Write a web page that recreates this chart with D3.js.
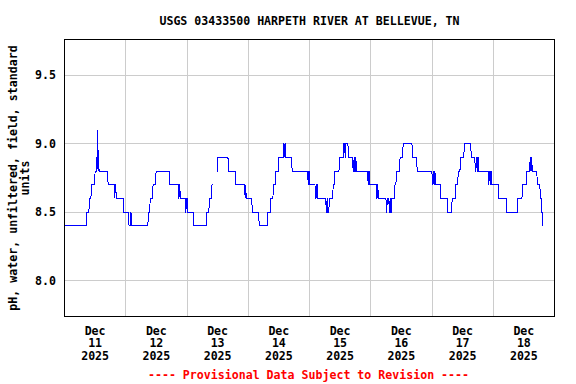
<!DOCTYPE html>
<html>
<head>
<meta charset="utf-8">
<script src="https://cdn.jsdelivr.net/npm/d3@7"></script>
<style>
  html, body { margin: 0; padding: 0; background: #fff; }
  svg { display: block; }
  text { font-family: "DejaVu Sans Mono", monospace; font-weight: bold; font-size: 11.6px; fill: #000; }
</style>
</head>
<body>
<script>
// ---- data ----
const title = "USGS 03433500 HARPETH RIVER AT BELLEVUE, TN";
const yAxisTitle = ["pH, water, unfiltered, field, standard", "units"];
const footnote = "---- Provisional Data Subject to Revision ----";
const dayLabels = [["Dec","11","2025"],["Dec","12","2025"],["Dec","13","2025"],["Dec","14","2025"],
                   ["Dec","15","2025"],["Dec","16","2025"],["Dec","17","2025"],["Dec","18","2025"]];
const yTicks = [8.0, 8.5, 9.0, 9.5];
// hours since Dec 11 00:00 at which each value begins (15-minute record, run-length form)
const stepHours = [
  0, 8.8, 9.8, 10.6, 12.0, 12.9, 13.15, 13.3, 13.55, 17.1, 19.7, 19.95, 20.3, 23.2, 25.3, 26.0, 26.3,
  32.9, 33.6, 34.7, 35.9, 41.2, 44.8, 45.1, 45.4, 47.5, 47.8, 48.3, 50.6,
  55.8, 56.8, 57.8, 58.4, 59.6, 60.1, 64.3, 67.2, 70.8, 71.0, 71.2, 73.6, 76.3,
  79.7, 80.9, 81.9, 82.8, 84.0, 85.9, 86.2, 86.4, 86.7, 89.2, 95.5, 95.8, 96.1, 98.4, 98.8, 99.2,
  102.6, 102.9, 103.2, 103.8, 105.3, 105.9, 107.8, 109.5, 110.0, 110.3, 111.3, 113.1, 113.5, 113.8, 114.1, 114.4,
  119.0, 119.3, 119.6, 122.4, 122.7, 123.0, 126.2, 126.5, 127.3, 127.6, 127.9, 128.2,
  129.5, 130.1, 131.5, 132.7, 136.4, 138.2, 144.2, 144.5, 144.8, 145.1, 145.4,
  147.5, 150.2, 151.9, 153.4, 154.3, 155.2, 156.7, 159.4, 161.0, 161.4, 161.7, 162.0, 162.3,
  166.2, 166.5, 166.8, 167.1, 167.4, 170.2, 173.3, 177.7, 179.5, 181.2,
  182.5, 182.8, 183.0, 183.3, 185.3, 186.5, 187.0, 187.5
];
const stepValues = [
  8.4, 8.5, 8.6, 8.7, 8.8, 9.1, 8.8, 8.95, 8.8, 8.7, 8.6, 8.7, 8.6, 8.5, 8.4, 8.5, 8.4,
  8.5, 8.6, 8.7, 8.8, 8.7, 8.6, 8.7, 8.6, 8.5, 8.6, 8.5, 8.4,
  8.5, 8.6, 8.7, null, 8.8, 8.9, 8.8, 8.7, 8.6, 8.7, 8.6, 8.5, 8.4,
  8.5, 8.6, 8.7, 8.8, 8.9, 9.0, 8.9, 9.0, 8.9, 8.8, 8.7, 8.8, 8.7, 8.6, 8.7, 8.6,
  8.5, 8.6, 8.5, 8.6, 8.7, 8.8, 8.9, 9.0, 8.9, 9.0, 8.9, 8.8, 8.9, 8.8, 8.9, 8.8,
  8.7, 8.8, 8.7, 8.6, 8.7, 8.6, 8.5, 8.6, 8.5, 8.6, 8.5, 8.6,
  8.7, 8.8, 8.9, 9.0, 8.9, 8.8, 8.7, 8.8, 8.7, 8.8, 8.7,
  8.6, 8.5, 8.6, 8.7, 8.8, 8.9, 9.0, 8.9, 8.8, 8.9, 8.8, 8.9, 8.8,
  8.7, 8.8, 8.7, 8.8, 8.7, 8.6, 8.5, 8.6, 8.7, 8.8,
  8.9, 8.8, 8.9, 8.8, 8.7, 8.6, 8.5, 8.4
];
const recordStep = 0.25; // hours between readings

// ---- layout ----
const W = 576, H = 384;
const svg = d3.select("body").append("svg").attr("width", W).attr("height", H);

const x = d3.scaleLinear().domain([0, 192]).range([64.5, 554.5]);
const y = d3.scaleLinear().domain([7.738, 9.76]).range([316.5, 39.5]);
const px = v => Math.floor(v) + 0.5;

// grid
const grid = svg.append("g").attr("stroke", "#cccccc").attr("stroke-width", 1).attr("shape-rendering", "crispEdges");
grid.selectAll("line.v").data(d3.range(1, 8)).join("line")
  .attr("x1", d => px(x(d * 24))).attr("x2", d => px(x(d * 24)))
  .attr("y1", y.range()[1]).attr("y2", y.range()[0]);
grid.selectAll("line.h").data(yTicks).join("line")
  .attr("y1", d => px(y(d))).attr("y2", d => px(y(d)))
  .attr("x1", x.range()[0]).attr("x2", x.range()[1]);

// series points built from the run-length record
const pts = [];
for (let i = 0; i < stepHours.length; i++) {
  const v = stepValues[i];
  if (v === null) { pts.push({h: stepHours[i], v: null}); continue; }
  pts.push({h: stepHours[i], v});
  if (i + 1 < stepHours.length) {
    const endH = stepHours[i + 1] - recordStep;
    if (endH > stepHours[i]) pts.push({h: endH, v});
  }
}
const line = d3.line().defined(d => d.v !== null).x(d => x(d.h)).y(d => y(d.v));
svg.append("path").datum(pts)
  .attr("d", line).attr("fill", "none").attr("stroke", "#0000ff").attr("stroke-width", 1)
  .attr("shape-rendering", "crispEdges");

// frame
svg.append("rect").attr("x", 64.5).attr("y", 39.5).attr("width", 490).attr("height", 277)
  .attr("fill", "none").attr("stroke", "#000").attr("shape-rendering", "crispEdges");

// y tick labels
svg.selectAll("text.yt").data(yTicks).join("text")
  .attr("x", 56).attr("y", d => y(d) + 4.2).attr("text-anchor", "end")
  .text(d => d.toFixed(1));

// x labels
dayLabels.forEach((lab, i) => {
  const cx = x(i * 24 + 12);
  lab.forEach((s, j) => {
    svg.append("text").attr("x", cx).attr("y", 334.5 + j * 12.8).attr("text-anchor", "middle").text(s);
  });
});

// title
svg.append("text").attr("x", 309.5).attr("y", 24.5).attr("text-anchor", "middle").text(title);

// y axis title
yAxisTitle.forEach((s, j) => {
  svg.append("text").attr("transform", `translate(${16.5 + j * 12.8},178) rotate(-90)`)
    .attr("text-anchor", "middle").text(s);
});

// footnote
svg.append("text").attr("x", 308.5).attr("y", 379).attr("text-anchor", "middle")
  .style("fill", "#ff0000").text(footnote);
</script>
</body>
</html>
